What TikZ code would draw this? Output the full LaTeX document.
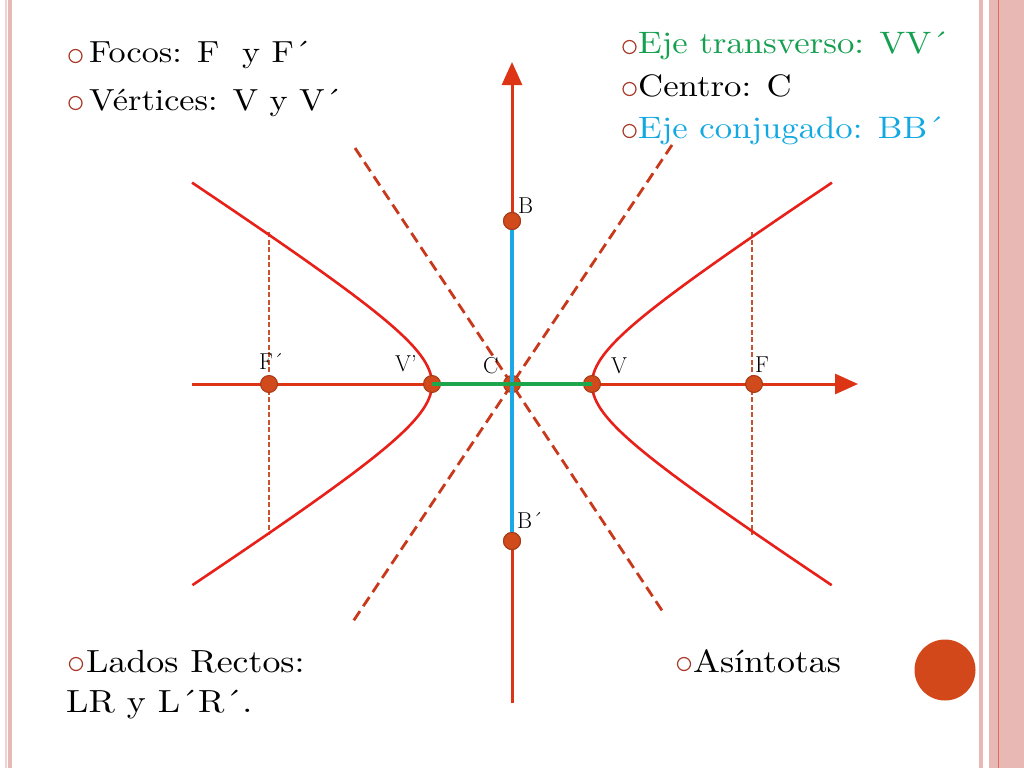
\documentclass[tikz,border=0pt]{standalone}
\usepackage{fontspec}
\newfontfamily\stfont{lmroman10-regular.otf}[FakeStretch=1.12]
\usetikzlibrary{arrows.meta}
\definecolor{axisred}{HTML}{DC3414}
\definecolor{hypred}{HTML}{E8201A}
\definecolor{asymcol}{HTML}{C8381A}
\definecolor{latcol}{HTML}{C8542E}
\definecolor{ptfill}{HTML}{D04A1C}
\definecolor{ptdraw}{HTML}{A63A16}
\definecolor{bluecol}{HTML}{1AA8E6}
\definecolor{greencol}{HTML}{1EA64C}
\definecolor{txtgreen}{HTML}{14A050}
\definecolor{txtblue}{HTML}{12A8E2}
\definecolor{bulcol}{HTML}{A8382A}
\definecolor{bordpink}{HTML}{E8B8B4}
\definecolor{bordlight}{HTML}{F2D2D0}
\definecolor{bordline}{HTML}{E06A5C}
\definecolor{bigdot}{HTML}{D2481A}
\begin{document}
\begin{tikzpicture}[x=1pt,y=-1pt,
  axisline/.style={draw=axisred,line width=3pt,-{Triangle[length=23pt,width=20pt]}},
  hyp/.style={draw=hypred,line width=2.6pt},
  asym/.style={draw=asymcol,line width=2.8pt,dash pattern=on 11pt off 6pt},
  latus/.style={draw=latcol,line width=2.5pt,dash pattern=on 5pt off 2.5pt},
  pt/.style={circle,fill=ptfill,draw=ptdraw,line width=1pt,minimum size=17pt,inner sep=0pt},
  bul/.style={circle,draw=bulcol,line width=1.2pt,minimum size=13pt,inner sep=0pt},
  lab/.style={anchor=base west,inner sep=0pt,font=\fontsize{23}{27}\selectfont},
  txtL/.style={anchor=base west,inner sep=0pt,font=\stfont\fontsize{30.5}{38}\selectfont},
  txtR/.style={anchor=base west,inner sep=0pt,font=\stfont\fontsize{31}{40}\selectfont},
  txtB/.style={anchor=base west,inner sep=0pt,font=\stfont\fontsize{32}{40}\selectfont}
]
\useasboundingbox (0,0) rectangle (1024,768);
% borders
\fill[bordlight] (5,0) rectangle (7,768);
\fill[bordpink] (8,0) rectangle (12,768);
\fill[bordpink] (979,0) rectangle (983,768);
\fill[bordpink] (989,0) rectangle (1024,768);
\draw[bordline,line width=1pt] (998.5,0) -- (998.5,768);

% coordinates
\coordinate (xs) at (192,384);
\coordinate (xe) at (858,384);
\coordinate (ys) at (512,703);
\coordinate (ye) at (512,62);
\coordinate (a1) at (355,148);
\coordinate (a2) at (665,615);
\coordinate (a3) at (672,145);
\coordinate (a4) at (352,623);
\coordinate (l1) at (269,232);
\coordinate (l2) at (269,535);
\coordinate (r1) at (752,232);
\coordinate (r2) at (752,535);

% asymptotes
\draw[asym] (a1) -- (a2);
\draw[asym] (a3) -- (a4);
% latus rectum
\draw[latus] (l1) -- (l2);
\draw[latus] (r1) -- (r2);
% hyperbola
\draw[hyp] plot[domain=-2.0634:2.0634,samples=90,smooth,variable=\t] ({512-80*cosh(\t)},{384+52*sinh(\t)});
\draw[hyp] plot[domain=-2.0634:2.0634,samples=90,smooth,variable=\t] ({512+80*cosh(\t)},{384+52*sinh(\t)});
% axes
\draw[axisline] (xs) -- (xe);
\draw[axisline] (ys) -- (ye);

% points
\node[pt] (C) at (512,384) {};
\node[pt] (B) at (512,221) {};
\node[pt] (Bp) at (512,541) {};
\draw[draw=bluecol,line width=4pt] (B.center) -- (Bp.center);
\node[pt] (Vp) at (432,384) {};
\node[pt] (V) at (592,384) {};
\draw[draw=greencol,line width=4pt] (Vp.center) -- (V.center);
\node[pt] (Fp) at (269,384) {};
\node[pt] (F) at (754,384) {};
\node[pt] at (B) {};
\node[pt] at (Bp) {};

% point labels
\node[lab] (tB) at (518,213) {B};
\node[lab] (tBp) at (517,528) {B´};
\node[lab] (tFp) at (259,369) {F´};
\node[lab] (tVp) at (395,371) {V’};
\node[lab] (tC) at (483,373) {C};
\node[lab] (tV) at (611,373) {V};
\node[lab] (tF) at (755,372) {F};

% bullets and texts top-left
\node[bul] (b1) at (75.5,56) {};
\node[txtL] (t1) at (89,63) {Focos: F\ \ y F´};
\node[bul] (b2) at (75.5,103) {};
\node[txtL] (t2) at (89,110) {Vértices: V\ y\ V´};
% top-right
\node[bul] (b3) at (629.5,47) {};
\node[txtR,text=txtgreen] (t3) at (638,54) {Eje transverso: VV´};
\node[bul] (b4) at (629.5,89) {};
\node[txtR] (t4) at (638,96) {Centro: C};
\node[bul] (b5) at (629.5,131) {};
\node[txtR,text=txtblue] (t5) at (638,138) {Eje conjugado: BB´};
% bottom
\node[bul] (b6) at (76,664) {};
\node[txtB] (t6) at (86,672) {Lados Rectos:};
\node[txtB] (t7) at (66,712) {LR y L´R´.};
\node[bul] (b7) at (684,664) {};
\node[txtB] (t8) at (693,672) {Asíntotas};
% big dot
\node[circle,fill=bigdot,minimum size=61pt,inner sep=0pt] (dot) at (945,670) {};
\end{tikzpicture}
\end{document}
